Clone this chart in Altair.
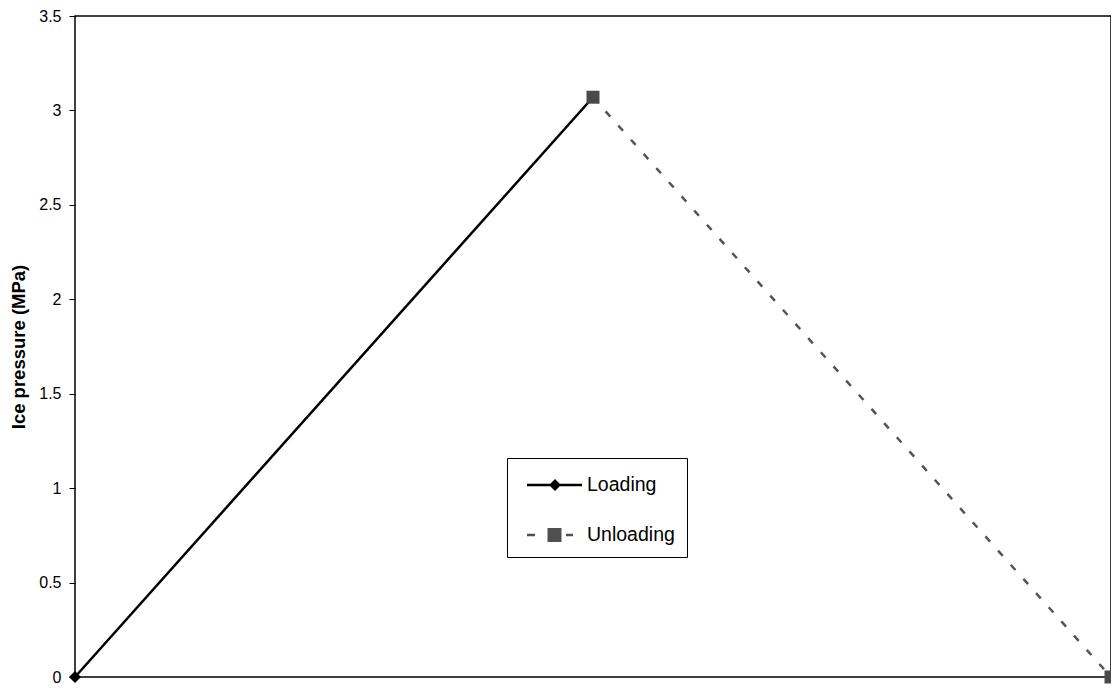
import altair as alt
import pandas as pd

# ---- data ----
series = ["Loading", "Loading", "Unloading", "Unloading"]
xs = [0.0, 0.5, 0.5, 1.0]
ys = [0.0, 3.07, 3.07, 0.0]
y_ticks = [0, 0.5, 1, 1.5, 2, 2.5, 3, 3.5]
legend_names = ["Loading", "Unloading"]
y_title = "Ice pressure (MPa)"

df = pd.DataFrame({"series": series, "x": xs, "y": ys})

FONT = "Liberation Sans"

x_enc = alt.X(
    "x:Q",
    scale=alt.Scale(domain=[0, 1], nice=False, zero=False),
    axis=alt.Axis(labels=False, ticks=False, domain=False, grid=False, title=None),
)
y_enc = alt.Y(
    "y:Q",
    scale=alt.Scale(domain=[0, 3.5], nice=False),
    axis=alt.Axis(
        values=y_ticks, format="~g", grid=False, domain=False,
        tickSize=6, tickColor="black", tickWidth=1,
        labelPadding=8, labelFont=FONT, labelFontSize=16, labelColor="black",
        title=y_title, titleFont=FONT, titleFontSize=18.5, titleFontWeight="bold",
        titleColor="black", titlePadding=10,
    ),
)

base = alt.Chart(df)
load = base.transform_filter(alt.datum.series == "Loading")
unload = base.transform_filter(alt.datum.series == "Unloading")

load_line = load.mark_line(color="black", strokeWidth=2.5).encode(x=x_enc, y=y_enc)
load_pts = load.mark_point(shape="diamond", filled=True, size=144, color="black", opacity=1).encode(x=x_enc, y=y_enc)
unload_line = unload.mark_line(color="#555555", strokeWidth=2.5, strokeDash=[7, 12]).encode(x=x_enc, y=y_enc)
unload_pts = unload.mark_point(shape="square", filled=True, size=169, color="#4a4a4a", opacity=1).encode(x=x_enc, y=y_enc)

# legend symbols: line + marker drawn as custom symbol paths
loading_path = "M-0.467,-0.083H3.2V0.083H-0.467Z M1.0,0L1.4,-0.4L1.8,0L1.4,0.4Z"
unloading_path = ("M-0.467,-0.083H0.067V0.083H-0.467Z "
                  "M0.9,-0.467H1.833V0.467H0.9Z "
                  "M2.133,-0.083H2.6V0.083H2.133Z")

leg = alt.Legend(orient="none", legendX=432, legendY=442, title=None)
legend_layer = base.transform_filter("false").mark_point(filled=True, opacity=1).encode(
    color=alt.Color("series:N", scale=alt.Scale(domain=legend_names, range=["black", "#505050"]), legend=leg),
    shape=alt.Shape("series:N", scale=alt.Scale(domain=legend_names, range=[loading_path, unloading_path]), legend=leg),
)

chart = (
    alt.layer(load_line, load_pts, unload_line, unload_pts, legend_layer)
    .properties(
        width=1036, height=661,
        autosize=alt.AutoSizeParams(type="none"),
        padding={"left": 67, "top": 8, "right": 0, "bottom": 8},
        background="white",
    )
    .configure_view(stroke="black", strokeWidth=1.5)
    .configure_legend(
        padding=12, rowPadding=25, symbolSize=900, symbolStrokeWidth=0,
        labelOffset=38, labelFont=FONT, labelFontSize=19.5, labelColor="black",
        strokeColor="black", fillColor="white",
    )
)

chart.save("out.html", embed_options={"renderer": "svg", "actions": False})
